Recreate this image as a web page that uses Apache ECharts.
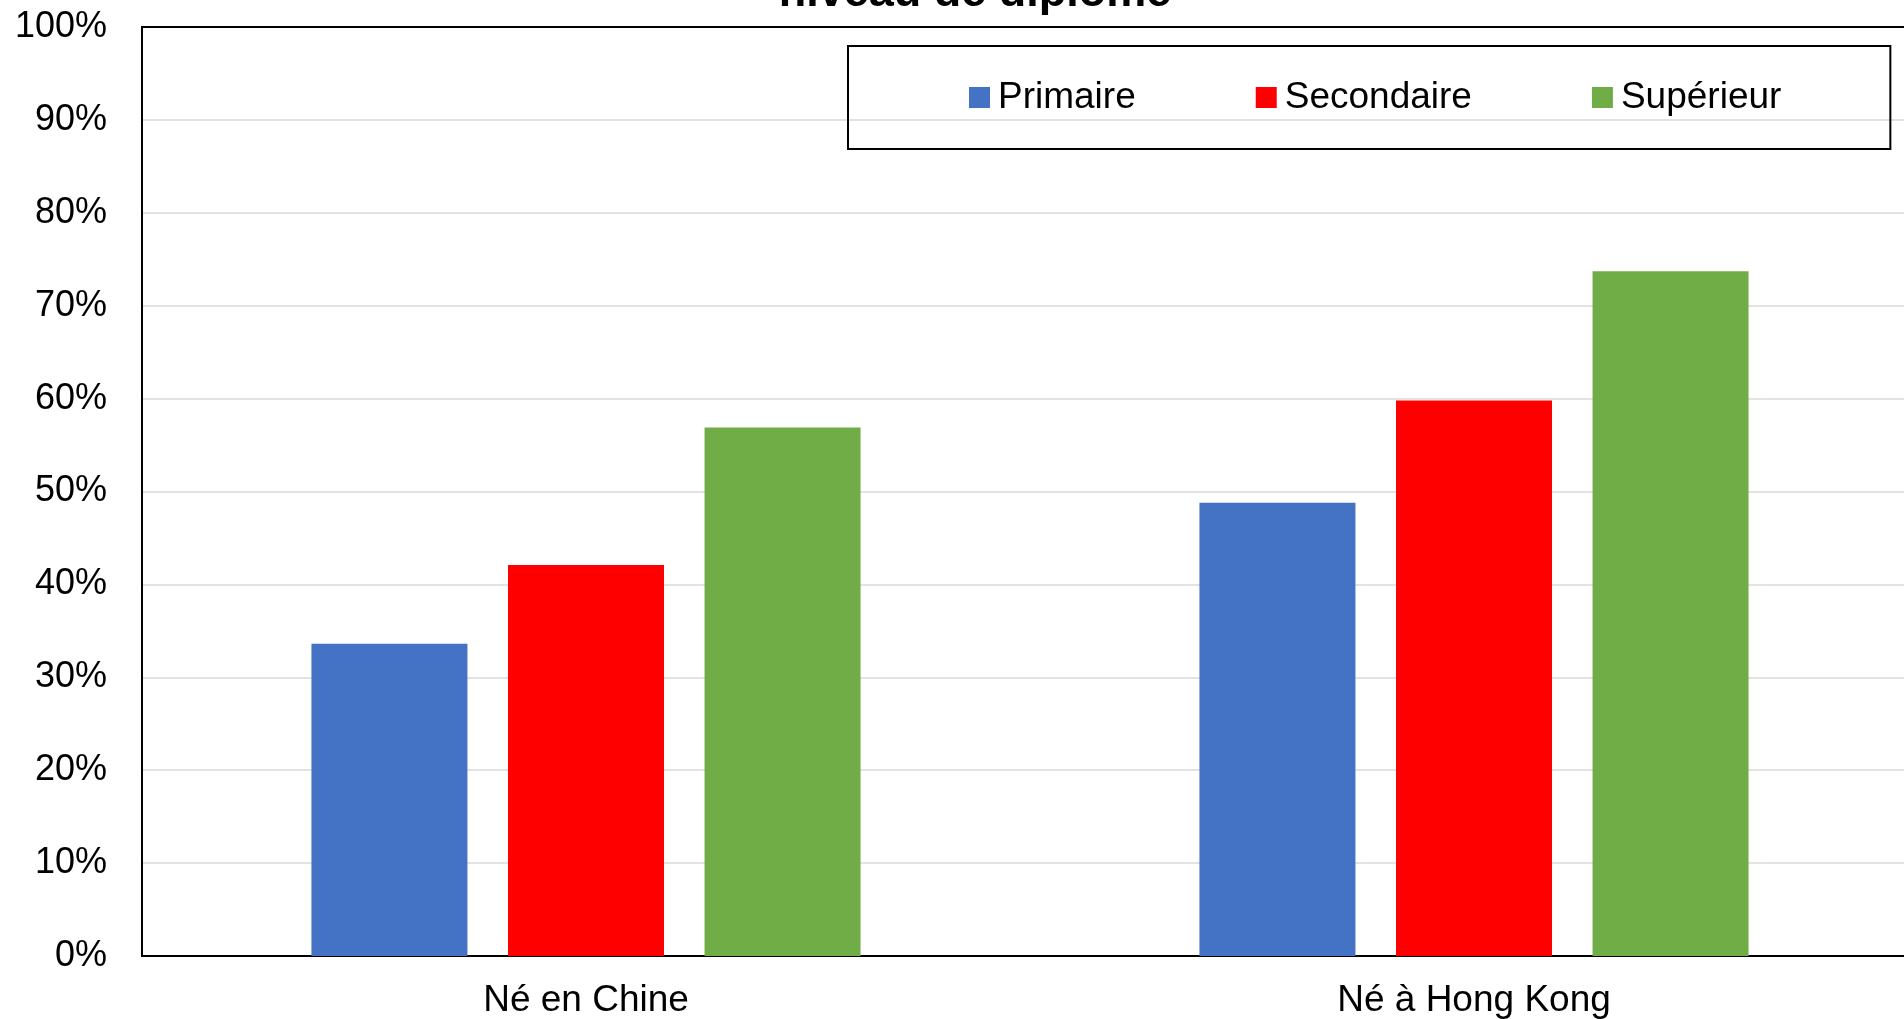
<!DOCTYPE html>
<html>
<head>
<meta charset="utf-8">
<script src="https://cdn.jsdelivr.net/npm/echarts@6/dist/echarts.min.js"></script>
<style>
  html, body { margin: 0; padding: 0; background: #fff; overflow: hidden; }
  #chart { width: 1922px; height: 1019px; }
</style>
</head>
<body>
<div id="chart"></div>
<script>
(function() {
  var categories = ['Né en Chine', 'Né à Hong Kong'];
  var seriesNames = ['Primaire', 'Secondaire', 'Supérieur'];
  var primaire = [33.6, 48.8];
  var secondaire = [42.1, 59.8];
  var superieur = [56.9, 73.7];
  var colors = ['#4472C4', '#FF0000', '#70AD47'];

  var myChart = echarts.init(document.getElementById('chart'));
  var font = 'Liberation Sans, Arial, sans-serif';

  var values = [primaire, secondaire, superieur];
  var series = [];
  for (var i = 0; i < seriesNames.length; i++) {
    series.push({
      name: seriesNames[i],
      type: 'bar',
      data: values[i],
      barWidth: 156,
      barGap: '26%',
      itemStyle: { color: colors[i] }
    });
  }

  var option = {
    animation: false,
    backgroundColor: '#fff',
    title: {
      text: 'niveau de diplôme',
      left: 970,
      textAlign: 'center',
      top: -34,
      textStyle: { fontFamily: font, fontSize: 45, fontWeight: 'bold', color: '#000' }
    },
    legend: {
      data: seriesNames,
      left: 848,
      top: 46,
      padding: [33, 109, 33, 121],
      itemGap: 120,
      itemWidth: 21,
      itemHeight: 21,
      borderColor: '#000',
      borderWidth: 2,
      icon: 'rect',
      textStyle: { fontFamily: font, fontSize: 37, color: '#000', padding: [0, 0, 0, 3] }
    },
    grid: {
      left: 142,
      right: 4,
      top: 27,
      bottom: 63,
      show: true,
      borderColor: '#000',
      borderWidth: 2,
      containLabel: false
    },
    xAxis: {
      type: 'category',
      data: categories,
      axisLine: { lineStyle: { color: '#000', width: 2 } },
      axisTick: { show: false },
      axisLabel: { fontFamily: font, fontSize: 37, color: '#000', margin: 26 }
    },
    yAxis: {
      type: 'value',
      min: 0,
      max: 100,
      interval: 10,
      axisLine: { show: true, lineStyle: { color: '#000', width: 2 } },
      axisTick: { show: false },
      splitLine: { showMaxLine: false, lineStyle: { color: '#d9d9d9', width: 1.5 } },
      axisLabel: {
        fontFamily: font, fontSize: 36, color: '#000', margin: 35,
        formatter: function(v) { return v + '%'; }
      }
    },
    series: series
  };
  myChart.setOption(option);
  window.addEventListener('resize', function() {
    myChart.resize();
  });
})();
</script>
</body>
</html>
